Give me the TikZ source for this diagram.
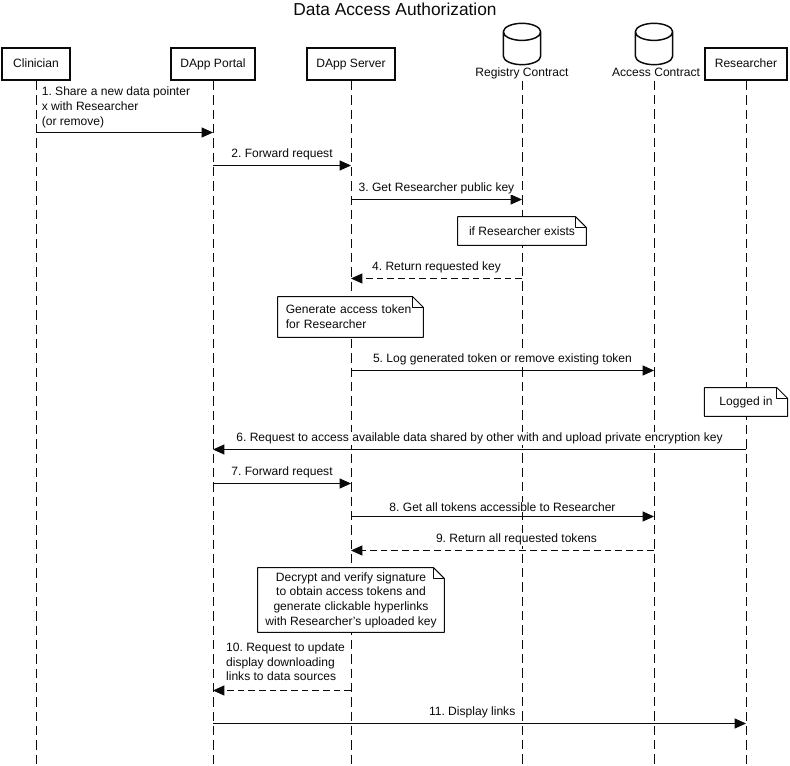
\documentclass[tikz,border=0pt]{standalone}
\usepackage{fontspec}
\setmainfont{Liberation Sans}
\usetikzlibrary{arrows.meta,positioning,calc}
\definecolor{seqblack}{RGB}{10, 10, 10}

\begin{document}
\frenchspacing
\begin{tikzpicture}[
    x=0.75pt, y=-0.75pt,
    every node/.style={font=\fontsize{9.05}{11}\selectfont, text=seqblack},
    actor/.style={draw=seqblack, line width=1.5pt, fill=white, minimum height=24pt, text height=7pt, text depth=2pt, align=center, inner sep=0pt},
    store/.style={minimum height=31pt, minimum width=28pt, inner sep=0pt, outer sep=0pt},
    storetxt/.style={inner sep=0.5pt, text height=7pt, text depth=2pt},
    life/.style={draw=seqblack, line width=0.75pt, dash pattern=on 7pt off 3.75pt},
    msg/.style={draw=seqblack, line width=0.75pt, -{Triangle[length=8.5pt,width=7.5pt]}},
    reply/.style={msg, dash pattern=on 5pt off 3pt},
    lbl/.style={above=3pt, inner sep=0.5pt, fill=white},
    lblleft/.style={above right=2.7pt and 3.5pt, inner sep=0.5pt, fill=white, align=left},
    note/.style={fill=white, inner sep=0pt}
]
    \useasboundingbox (0,0) rectangle (790,766);

    % Title
    \node[font=\fontsize{13}{16}\selectfont] (title) at (395,9) {Data Access Authorization};

    % Actors
    \node[actor, minimum width=51pt] (clinician) at (36,64) {Clinician};
    \node[actor, minimum width=63pt] (portal) at (213,64) {DApp Portal};
    \node[actor, minimum width=66pt] (server) at (351,64) {DApp Server};
    \node[actor, minimum width=61.5pt] (researcher) at (746,64) {Researcher};

    % Contracts
    \node[store] (registry) at (522,44) {};
    \node[storetxt, below=1.5pt of registry] (registrytxt) {Registry Contract};
    \node[store] (access) at (654,44) {};
    \node[storetxt, below=1.5pt of access, xshift=1.5pt] (accesstxt) {Access Contract};
    \foreach \n in {registry,access} {
        \draw[draw=seqblack, line width=1.1pt]
            ([yshift=-6.4pt]\n.north west) -- ([yshift=6.4pt]\n.south west)
            arc[start angle=180, end angle=360, x radius=14pt, y radius=6.4pt]
            -- ([yshift=-6.4pt]\n.north east)
            arc[start angle=0, end angle=360, x radius=14pt, y radius=6.4pt];
    }

    % Rows
    \coordinate (bottom) at (0,766);
    \coordinate (m1) at (0,132.5);
    \coordinate (m2) at (0,165.5);
    \coordinate (m3) at (0,199.5);
    \coordinate (m4) at (0,278.5);
    \coordinate (m5) at (0,370.5);
    \coordinate (m6) at (0,449.5);
    \coordinate (m7) at (0,483.5);
    \coordinate (m8) at (0,516.5);
    \coordinate (m9) at (0,550.5);
    \coordinate (m10) at (0,690.5);
    \coordinate (m11) at (0,723.5);

    % Lifelines
    \draw[life] (clinician.south) -- (clinician |- bottom);
    \draw[life] (portal.south) -- (portal |- bottom);
    \draw[life] (server.south) -- (server |- bottom);
    \draw[life] (registrytxt.south -| registry) -- (registry |- bottom);
    \draw[life] (accesstxt.south -| access) -- (access |- bottom);
    \draw[life] (researcher.south) -- (researcher |- bottom);

    % Messages
    \draw[msg] (clinician |- m1) -- node[pos=0, lblleft] (t1) {1. Share a new data pointer\\x with Researcher\\(or remove)} (portal |- m1);
    \draw[msg] (portal |- m2) -- node[lbl] (t2) {2. Forward request} (server |- m2);
    \draw[msg] (server |- m3) -- node[lbl] (t3) {3. Get Researcher public key} (registry |- m3);
    \draw[reply] (registry |- m4) -- node[lbl] (t4) {4. Return requested key} (server |- m4);
    \draw[msg] (server |- m5) -- node[lbl] (t5) {5. Log generated token or remove existing token} (access |- m5);
    \draw[msg] (researcher |- m6) -- node[lbl] (t6) {6. Request to access available data shared by other with and upload private encryption key} (portal |- m6);
    \draw[msg] (portal |- m7) -- node[lbl] (t7) {7. Forward request} (server |- m7);
    \draw[msg] (server |- m8) -- node[lbl] (t8) {8. Get all tokens accessible to Researcher} (access |- m8);
    \draw[reply] (access |- m9) -- node[lbl, xshift=10.5pt] (t9) {9. Return all requested tokens} (server |- m9);
    \draw[reply] (server |- m10) -- node[pos=1, lblleft, xshift=5.5pt, yshift=3.6pt] (t10) {10. Request to update\\display downloading\\links to data sources} (portal |- m10);
    \draw[msg] (portal |- m11) -- node[lbl, xshift=-5.5pt] (t11) {11. Display links} (researcher |- m11);

    % Notes
    \node[note, minimum width=96pt, minimum height=21pt] (noteexists) at (522,231) {if Researcher exists};
    \node[note, text width=103pt, inner xsep=3pt, minimum height=30pt, align=left] (notetoken) at (350.5,317) {\hspace*{3pt}Generate access token\\\hspace*{3pt}for Researcher};
    \node[note, minimum width=62pt, minimum height=21pt] (notelogin) at (746,402) {Logged in};
    \node[note, minimum width=139.5pt, minimum height=48pt, align=center] (notedecrypt) at (351,600) {Decrypt and verify signature\\to obtain access tokens and\\generate clickable hyperlinks\\with Researcher's uploaded key};
    \foreach \n in {noteexists,notetoken,notelogin,notedecrypt} {
        \draw[draw=seqblack, line width=0.75pt, line join=round]
            (\n.south west) -- (\n.north west) -- ([xshift=-8pt]\n.north east)
            -- ([yshift=-8pt]\n.north east) -- (\n.south east) -- cycle;
        \draw[draw=seqblack, line width=0.75pt, line join=round]
            ([xshift=-8pt]\n.north east) |- ([yshift=-8pt]\n.north east);
    }
\end{tikzpicture}
\end{document}
